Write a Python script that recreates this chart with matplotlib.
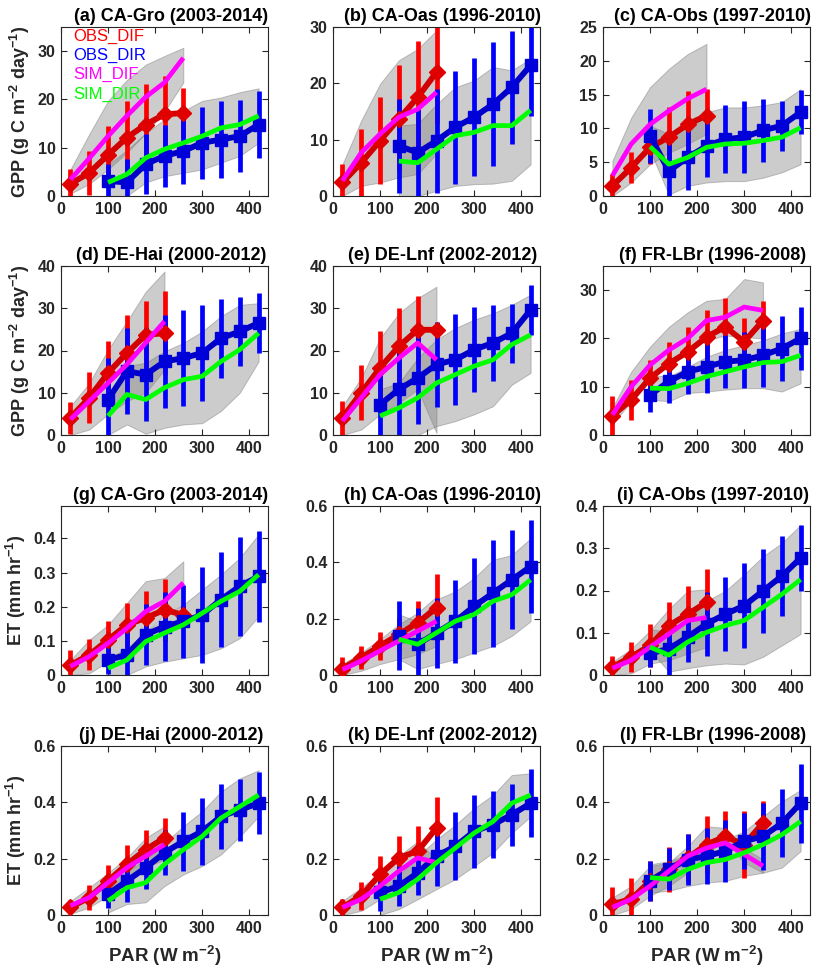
import numpy as np
import matplotlib
matplotlib.use('Agg')
import matplotlib.pyplot as plt
from matplotlib.lines import Line2D

plt.rcParams['font.family'] = ['Liberation Sans', 'DejaVu Sans']
plt.rcParams['mathtext.fontset'] = 'custom'
plt.rcParams['mathtext.rm'] = 'Liberation Sans:bold'
plt.rcParams['mathtext.bf'] = 'Liberation Sans:bold'
plt.rcParams['mathtext.default'] = 'bf'

# PAR bins (W m-2); DIF series start at 20, DIR series end at 420
par_dif = [20, 60, 100, 140, 180, 220, 260, 300, 340]
par_dir = [100, 140, 180, 220, 260, 300, 340, 380, 420]

titles = ['(a) CA-Gro (2003-2014)', '(b) CA-Oas (1996-2010)', '(c) CA-Obs (1997-2010)',
          '(d) DE-Hai (2000-2012)', '(e) DE-Lnf (2002-2012)', '(f) FR-LBr (1996-2008)',
          '(g) CA-Gro (2003-2014)', '(h) CA-Oas (1996-2010)', '(i) CA-Obs (1997-2010)',
          '(j) DE-Hai (2000-2012)', '(k) DE-Lnf (2002-2012)', '(l) FR-LBr (1996-2008)']
ytop = [35, 30, 25, 40, 40, 35, 0.495, 0.6, 0.4, 0.6, 0.6, 0.6]
yticks = [[0, 10, 20, 30], [0, 10, 20, 30], [0, 5, 10, 15, 20, 25],
          [0, 10, 20, 30, 40], [0, 10, 20, 30, 40], [0, 10, 20, 30],
          [0, 0.1, 0.2, 0.3, 0.4], [0, 0.2, 0.4, 0.6], [0, 0.1, 0.2, 0.3, 0.4],
          [0, 0.2, 0.4, 0.6], [0, 0.2, 0.4, 0.6], [0, 0.2, 0.4, 0.6]]
xticks = [0, 100, 200, 300, 400]
gpp_label = 'GPP (g C m$^{-2}$ day$^{-1}$)'
et_label = 'ET (mm hr$^{-1}$)'
par_label = 'PAR (W m$^{-2}$)'

obs_dif_mean = [
    [2.5, 4.8, 8.5, 12.1, 14.8, 16.9, 17.2],
    [2.4, 5.9, 9.8, 13.7, 17.5, 22.0],
    [1.5, 4.2, 7.2, 8.7, 10.6, 11.9],
    [4.1, 8.8, 14.7, 19.4, 23.7, 24.1],
    [4.1, 10.0, 15.9, 21.0, 24.9, 24.9],
    [4.0, 7.3, 11.8, 14.8, 17.2, 20.3, 22.4, 19.3, 23.7],
    [0.029, 0.059, 0.103, 0.147, 0.167, 0.191, 0.176],
    [0.023, 0.062, 0.103, 0.144, 0.186, 0.238],
    [0.019, 0.043, 0.070, 0.117, 0.144, 0.172],
    [0.027, 0.062, 0.121, 0.180, 0.232, 0.274],
    [0.027, 0.068, 0.144, 0.203, 0.227, 0.309],
    [0.039, 0.056, 0.121, 0.162, 0.203, 0.250, 0.279, 0.250, 0.326]]
obs_dif_sd = [
    [3.0, 4.5, 6.0, 7.6, 8.3, 8.0, 5.2],
    [3.2, 6.0, 7.7, 9.5, 10.0, 9.0],
    [1.7, 2.3, 2.5, 4.4, 5.0, 4.0],
    [3.8, 6.0, 7.5, 9.0, 8.0, 10.0],
    [4.0, 6.5, 8.6, 9.0, 8.0, 1.5],
    [4.0, 4.1, 3.7, 4.5, 5.2, 5.5, 6.0, 5.0, 4.0],
    [0.045, 0.045, 0.054, 0.064, 0.080, 0.090, 0.030],
    [0.040, 0.040, 0.050, 0.060, 0.075, 0.120],
    [0.025, 0.035, 0.050, 0.055, 0.066, 0.078],
    [0.025, 0.045, 0.055, 0.070, 0.070, 0.070],
    [0.030, 0.050, 0.065, 0.076, 0.090, 0.110],
    [0.060, 0.075, 0.070, 0.080, 0.085, 0.100, 0.090, 0.120, 0.080]]

obs_dir_mean = [
    [3.1, 2.8, 6.6, 8.3, 9.3, 11.0, 11.7, 12.4, 14.8],
    [8.9, 7.7, 9.8, 12.2, 14.0, 16.3, 19.3, 23.2],
    [8.9, 3.7, 5.7, 7.4, 8.4, 8.7, 9.7, 10.4, 12.4],
    [8.4, 15.1, 14.3, 17.4, 18.2, 19.4, 22.9, 24.5, 26.5],
    [7.2, 10.8, 13.5, 16.7, 17.8, 20.2, 21.8, 24.1, 29.6],
    [8.3, 11.1, 13.1, 14.1, 15.2, 15.5, 16.5, 17.9, 20.0],
    [0.044, 0.059, 0.118, 0.142, 0.157, 0.176, 0.221, 0.260, 0.289],
    [0.139, 0.109, 0.150, 0.191, 0.244, 0.291, 0.338, 0.385],
    [0.051, 0.062, 0.090, 0.121, 0.144, 0.164, 0.199, 0.234, 0.277],
    [0.074, 0.121, 0.168, 0.221, 0.262, 0.297, 0.350, 0.373, 0.397],
    [0.080, 0.103, 0.150, 0.209, 0.244, 0.297, 0.321, 0.356, 0.397],
    [0.121, 0.162, 0.197, 0.209, 0.227, 0.262, 0.279, 0.326, 0.397]]
obs_dir_sd = [
    [3.5, 4.8, 6.2, 6.4, 6.9, 7.5, 7.9, 7.5, 7.0],
    [8.3, 7.7, 9.2, 10.0, 10.5, 11.0, 10.0, 9.0],
    [4.0, 4.2, 4.8, 4.6, 5.0, 5.3, 4.7, 3.7, 3.3],
    [9.8, 10.2, 11.0, 11.0, 11.4, 11.4, 9.3, 8.2, 7.1],
    [10.0, 11.0, 11.0, 10.0, 10.8, 10.0, 9.0, 7.0, 6.0],
    [3.5, 4.5, 4.7, 5.5, 5.5, 5.8, 6.5, 6.8, 6.5],
    [0.040, 0.090, 0.090, 0.100, 0.108, 0.140, 0.140, 0.145, 0.133],
    [0.123, 0.130, 0.125, 0.147, 0.170, 0.190, 0.176, 0.165],
    [0.031, 0.063, 0.060, 0.075, 0.088, 0.100, 0.100, 0.094, 0.078],
    [0.050, 0.076, 0.076, 0.080, 0.105, 0.120, 0.115, 0.110, 0.110],
    [0.067, 0.070, 0.080, 0.105, 0.120, 0.130, 0.120, 0.110, 0.120],
    [0.070, 0.075, 0.090, 0.100, 0.110, 0.100, 0.120, 0.120, 0.140]]

sim_dif = [
    [3.4, 7.8, 12.4, 16.6, 20.5, 23.5, 28.6],
    [2.7, 7.7, 11.0, 14.0, 15.4, 18.4],
    [3.0, 7.7, 10.6, 12.6, 14.4, 15.8],
    [3.7, 8.0, 12.3, 16.7, 21.8, 26.9],
    [3.3, 8.8, 14.3, 18.2, 21.8, 17.8],
    [4.2, 10.0, 14.5, 17.6, 20.0, 23.7, 24.4, 26.5, 25.8],
    [0.025, 0.054, 0.093, 0.137, 0.186, 0.216, 0.270],
    [0.019, 0.050, 0.086, 0.121, 0.156, 0.191],
    [0.016, 0.035, 0.066, 0.097, 0.129, 0.136],
    [0.033, 0.062, 0.115, 0.168, 0.209, 0.250],
    [0.027, 0.056, 0.103, 0.156, 0.203, 0.186],
    [0.027, 0.056, 0.103, 0.156, 0.209, 0.238, 0.256, 0.215, 0.174]]
sim_dif_lo = [
    [0.5, 2.5, 5.5, 9.0, 13.0, 17.5, 23.5],
    [0.0, 1.8, 2.4, 3.3, 3.9, 7.5],
    [0.0, 2.0, 4.7, 6.4, 7.7, 9.2],
    [0.0, 1.3, 4.9, 8.0, 10.0, 15.5],
    [0.0, 1.3, 4.9, 7.6, 10.8, 0.5],
    [2.2, 7.0, 11.8, 15.2, 17.2, 19.6, 20.6, 20.3, 20.0],
    [0.0, 0.005, 0.039, 0.078, 0.123, 0.176, 0.206],
    [0.0, 0.015, 0.039, 0.056, 0.074, 0.103],
    [0.0, 0.004, 0.027, 0.035, 0.051, 0.066],
    [0.004, 0.027, 0.068, 0.109, 0.168, 0.197],
    [0.0, 0.015, 0.056, 0.109, 0.156, 0.186],
    [0.0, 0.021, 0.068, 0.103, 0.150, 0.215, 0.268, 0.186, 0.150]]
sim_dif_hi = [
    [5.5, 12.8, 19.7, 24.0, 27.2, 29.0, 30.7],
    [5.6, 13.4, 19.9, 24.1, 26.1, 29.4],
    [5.2, 11.6, 16.1, 18.8, 21.0, 22.5],
    [6.8, 12.3, 20.2, 26.9, 33.9, 38.7],
    [6.8, 13.5, 22.9, 28.8, 32.4, 35.1],
    [5.6, 13.1, 18.3, 22.4, 25.4, 27.8, 28.2, 32.3, 31.6],
    [0.044, 0.103, 0.147, 0.211, 0.275, 0.284, 0.333],
    [0.039, 0.080, 0.127, 0.180, 0.221, 0.279],
    [0.031, 0.062, 0.105, 0.156, 0.199, 0.203],
    [0.050, 0.097, 0.150, 0.203, 0.274, 0.315],
    [0.050, 0.097, 0.150, 0.209, 0.262, 0.197],
    [0.062, 0.103, 0.174, 0.186, 0.244, 0.315, 0.309, 0.238, 0.197]]

sim_dir = [
    [2.8, 4.5, 7.9, 9.7, 11.0, 12.4, 14.1, 14.8, 16.6],
    [6.2, 5.9, 8.3, 10.7, 11.3, 12.5, 12.5, 15.2],
    [7.3, 4.7, 5.7, 7.2, 7.7, 7.8, 8.2, 8.7, 10.1],
    [4.5, 9.6, 8.4, 11.2, 13.1, 13.9, 17.4, 20.2, 24.1],
    [4.5, 6.4, 8.8, 12.3, 14.3, 16.3, 17.8, 21.4, 23.7],
    [9.7, 9.6, 10.7, 12.1, 13.1, 14.1, 15.0, 15.2, 16.5],
    [0.020, 0.044, 0.098, 0.123, 0.147, 0.181, 0.216, 0.245, 0.294],
    [0.127, 0.109, 0.150, 0.191, 0.215, 0.262, 0.285, 0.338],
    [0.066, 0.047, 0.078, 0.101, 0.117, 0.129, 0.160, 0.191, 0.226],
    [0.050, 0.097, 0.115, 0.180, 0.232, 0.279, 0.344, 0.385, 0.426],
    [0.056, 0.080, 0.127, 0.186, 0.238, 0.291, 0.332, 0.397, 0.426],
    [0.133, 0.127, 0.162, 0.186, 0.197, 0.221, 0.250, 0.285, 0.332]]
sim_dir_lo = [
    [0.0, 0.0, 2.8, 4.1, 4.8, 5.5, 6.9, 8.3, 11.0],
    [0.0, 0.0, 0.9, 1.8, 2.1, 2.2, 2.7, 5.6],
    [6.7, 0.2, 1.5, 2.0, 2.2, 2.2, 2.7, 3.5, 4.7],
    [0.0, 2.5, 0.3, 1.7, 2.5, 2.8, 5.7, 10.0, 17.4],
    [0.0, 0.0, 0.0, 2.1, 3.3, 4.9, 6.8, 11.9, 14.7],
    [7.3, 7.0, 8.7, 9.0, 9.4, 9.7, 9.7, 9.0, 10.7],
    [0.0, 0.0, 0.025, 0.039, 0.049, 0.059, 0.078, 0.108, 0.172],
    [0.056, 0.021, 0.039, 0.056, 0.080, 0.103, 0.139, 0.191],
    [0.058, 0.008, 0.016, 0.023, 0.027, 0.025, 0.043, 0.070, 0.097],
    [0.009, 0.039, 0.045, 0.103, 0.144, 0.174, 0.215, 0.279, 0.350],
    [0.0, 0.021, 0.056, 0.092, 0.127, 0.174, 0.221, 0.291, 0.350],
    [0.080, 0.086, 0.103, 0.115, 0.121, 0.139, 0.150, 0.168, 0.227]]
sim_dir_hi = [
    [6.5, 9.5, 13.0, 15.9, 17.6, 19.7, 20.4, 21.5, 22.3],
    [12.5, 12.8, 16.3, 19.3, 20.5, 22.9, 22.3, 24.4],
    [10.4, 9.2, 10.6, 12.4, 13.1, 13.1, 13.4, 13.9, 15.8],
    [8.8, 16.3, 17.1, 19.8, 21.8, 24.5, 28.1, 30.8, 31.2],
    [10.8, 12.3, 18.2, 22.6, 25.3, 27.3, 28.8, 30.8, 33.2],
    [12.4, 12.1, 14.1, 16.2, 17.6, 18.6, 19.6, 21.0, 22.0],
    [0.049, 0.078, 0.123, 0.167, 0.206, 0.250, 0.294, 0.343, 0.412],
    [0.215, 0.191, 0.268, 0.297, 0.344, 0.409, 0.426, 0.485],
    [0.109, 0.101, 0.129, 0.175, 0.199, 0.238, 0.281, 0.312, 0.355],
    [0.109, 0.156, 0.197, 0.256, 0.315, 0.368, 0.438, 0.485, 0.514],
    [0.115, 0.139, 0.209, 0.268, 0.320, 0.379, 0.426, 0.497, 0.503],
    [0.180, 0.191, 0.215, 0.244, 0.268, 0.297, 0.350, 0.403, 0.444]]

W, H = 815, 973
fig = plt.figure(figsize=(W / 100, H / 100), dpi=100)
lefts = [61, 333, 603]
tops = [27, 266, 506, 746]
aw, ah = 207, 169
tc = '#262626'

for k in range(12):
    r, c = divmod(k, 3)
    ax = fig.add_axes([lefts[c] / W, 1 - (tops[r] + ah) / H, aw / W, ah / H])

    n1 = len(obs_dif_mean[k])
    n2 = len(obs_dir_mean[k])
    x1 = par_dif[:n1]
    x2 = par_dir[-n2:]

    # model spread
    ax.fill_between(x1, sim_dif_lo[k], sim_dif_hi[k], facecolor='#808080', alpha=0.4,
                    edgecolor='#6e6e6e', linewidth=0.7, zorder=1)
    ax.fill_between(x2, sim_dir_lo[k], sim_dir_hi[k], facecolor='#808080', alpha=0.4,
                    edgecolor='#6e6e6e', linewidth=0.7, zorder=1)

    # observations
    ax.errorbar(x1, obs_dif_mean[k], yerr=obs_dif_sd[k], fmt='none', ecolor='#ff0000',
                elinewidth=3.4, capsize=0, zorder=2)
    ax.plot(x1, obs_dif_mean[k], color='#d20000', lw=4.2, marker='D', ms=8,
            mfc='#e00000', mec='#e00000', zorder=3)
    ax.errorbar(x2, obs_dir_mean[k], yerr=obs_dir_sd[k], fmt='none', ecolor='#0000ff',
                elinewidth=3.4, capsize=0, zorder=2)
    ax.plot(x2, obs_dir_mean[k], color='#0000c8', lw=4.2, marker='s', ms=8.5,
            mfc='#0000d8', mec='#0000d8', zorder=3)

    # simulations
    ax.plot(x1, sim_dif[k], color='#ff00ff', lw=3.4, zorder=4, solid_capstyle='butt')
    ax.plot(x2, sim_dir[k], color='#00ff00', lw=3.4, zorder=4, solid_capstyle='butt')

    ax.set_xlim(0, 440)
    ax.set_ylim(0, ytop[k])
    ax.set_xticks(xticks, [str(v) for v in xticks], fontsize=11.5, fontweight='bold', color=tc)
    ax.set_yticks(yticks[k], [f'{v:g}' for v in yticks[k]], fontsize=11.5, fontweight='bold', color=tc)
    ax.tick_params(direction='in', top=True, right=True, length=4, width=0.8, color=tc, pad=4)
    for s in ax.spines.values():
        s.set_color(tc)
        s.set_linewidth(0.8)
    ax.set_title(titles[k], fontsize=13, fontweight='bold', x=0.53, pad=4)

    if c == 0:
        ax.set_ylabel(gpp_label if r < 2 else et_label, fontsize=13, fontweight='bold',
                      color=tc, labelpad=4)
    if r == 3:
        ax.set_xlabel(par_label, fontsize=13.5, fontweight='bold', color=tc, labelpad=6)

    if k == 0:
        names = ['OBS_DIF', 'OBS_DIR', 'SIM_DIF', 'SIM_DIR']
        cols = ['#ff0000', '#0000ff', '#ff00ff', '#00ff00']
        hs = [Line2D([], [], color=cc) for cc in cols]
        ax.legend(hs, names, loc='upper left', bbox_to_anchor=(0.05, 1.0), frameon=False,
                  handlelength=0, handletextpad=0, labelcolor=cols, fontsize=12,
                  borderaxespad=0, borderpad=0.1, labelspacing=0.25)

fig.savefig('out.png', dpi=100)
